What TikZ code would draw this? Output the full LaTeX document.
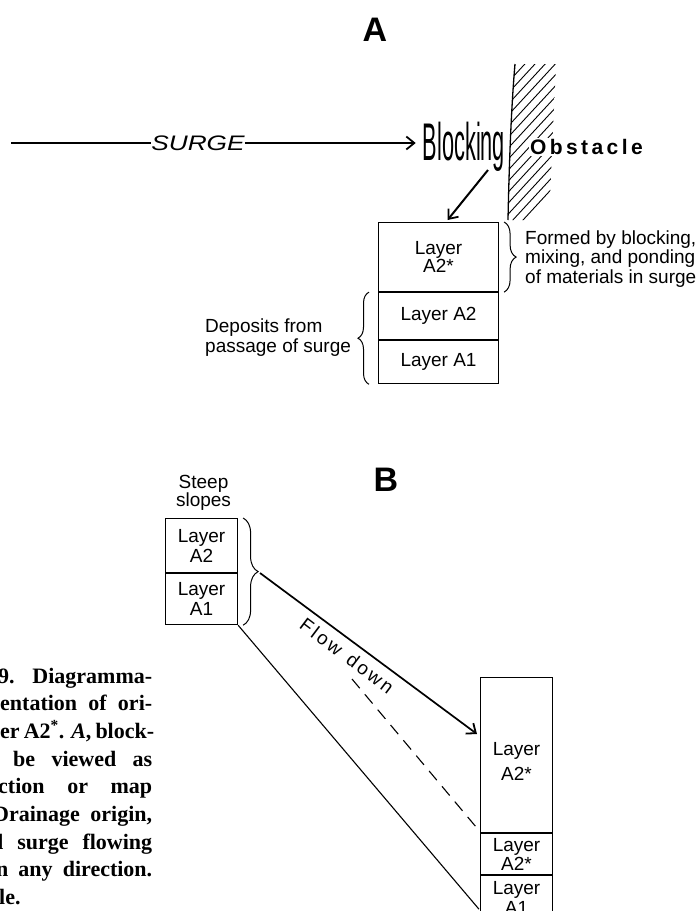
\documentclass[tikz,border=0pt]{standalone}
\usepackage{fontspec}
\usepackage{graphicx}
\setmainfont{Liberation Sans}
\newfontfamily\capserif{Liberation Serif}
\usetikzlibrary{arrows.meta,decorations.pathreplacing,calc}
\begin{document}
\begin{tikzpicture}[x=1pt,y=-1pt,
  txt/.style={inner sep=0pt, font=\fontsize{19}{19.5}\selectfont},
  lay/.style={draw, line width=1.1pt, inner sep=0pt, align=center, font=\fontsize{19}{18}\selectfont},
  heading/.style={inner sep=0pt, font=\bfseries\fontsize{34}{34}\selectfont},
  plainline/.style={line width=1.6pt},
  thinline/.style={line width=1.1pt},
  barb/.style={-{Straight Barb[length=8pt,width=13pt,line width=1.8pt]}},
  bigarrow/.style={line width=2pt, barb},
  midarrow/.style={line width=1.7pt, barb},
  curly/.style={decorate, line width=1pt, decoration={brace, amplitude=#1}},
  capline/.style={inner sep=0pt, anchor=base west, font=\capserif\bfseries\fontsize{22}{22}\selectfont}
]
\useasboundingbox (0,0) rectangle (697,911);

% ---------------- Panel A ----------------
\node[heading] (lblA) at (375,30) {A};

\node[inner sep=0pt, font=\itshape\fontsize{21}{21}\selectfont] (surge) at (198,143) {\scalebox{1.25}[1]{SURGE}};
\coordinate (surgestart) at (11,143);
\node[inner sep=0pt, anchor=base, font=\fontsize{53}{53}\selectfont] (blk) at (464,160) {\scalebox{0.41}[1]{Blocking}};
\draw[plainline] (surgestart) -- (surge.west);
\draw[plainline, barb, shorten >=7pt] (surge.east) -- (surge.east -| blk.west);

% obstacle hatching
\begin{scope}
  \clip (515,64) .. controls (511,110) and (509,170) .. (508,220) -- (549,220) -- (556,64) -- cycle;
  \foreach \k in {0,...,17} { \draw[line width=0.9pt] (500,58+11*\k) -- ++(70,-76); }
\end{scope}
\draw[line width=1.3pt] (515,64) .. controls (511,110) and (509,170) .. (508,220);
\node[fill=white, inner sep=1pt, anchor=west, font=\bfseries\fontsize{21}{21}\selectfont] (obs) at (529,147)
  {O\kern3.4pt b\kern3.4pt s\kern3.4pt t\kern3.4pt a\kern3.4pt c\kern3.4pt l\kern3.4pt e};

% layer column A
\node[lay, minimum width=120pt, minimum height=69pt, anchor=north west, font=\fontsize{19}{17}\selectfont] (a2s) at (378,222) {Layer\\A2*};
\node[lay, minimum width=120pt, minimum height=47pt, anchor=north] (a2) at (a2s.south) {Layer A2};
\node[lay, minimum width=120pt, minimum height=43pt, anchor=north] (a1) at (a2.south) {Layer A1};

\draw[bigarrow] ($(blk.base)+(24,10)$) -- ($(a2s.north)+(9,-2)$);

\draw[curly=12pt] ($(a2s.north east)+(5,0)$) -- ($(a2s.south east)+(5,0)$);
\node[txt, anchor=west, align=left] (formed) at (525,259) {Formed by blocking,\\mixing, and ponding\\of materials in surge};

\draw[curly=11pt] ($(a1.south west)+(-9,0)$) -- ($(a2.north west)+(-9,0)$);
\node[txt, anchor=west, align=left, font=\fontsize{19}{20}\selectfont] (dep) at (205,338) {Deposits from\\passage of surge};

% ---------------- Panel B ----------------
\node[heading] (lblB) at (386,480) {B};

\node[lay, minimum width=72pt, minimum height=54pt, anchor=north west, font=\fontsize{19}{20}\selectfont] (b2) at (165,518) {Layer\\A2};
\node[lay, minimum width=72pt, minimum height=51pt, anchor=north, font=\fontsize{19}{20}\selectfont] (b1) at (b2.south) {Layer\\A1};
\node[txt, anchor=south, align=center, font=\fontsize{19}{18}\selectfont] (steep) at ($(b2.north)+(2,-7)$) {Steep\\slopes};

\draw[curly=15pt] ($(b2.north east)+(5,0)$) -- ($(b1.south east)+(5,0)$);
\coordinate (btip) at (260,573);

\node[lay, minimum width=72pt, minimum height=155pt, anchor=north west] (g1) at (480,677) {};
\node[txt, align=center, font=\fontsize{19}{25}\selectfont] (g1txt) at ($(g1.center)+(0,6)$) {Layer\\A2*};
\node[lay, minimum width=72pt, minimum height=41pt, anchor=north, font=\fontsize{19}{19}\selectfont] (g2) at (g1.south) {Layer\\A2*};
\node[lay, minimum width=72pt, minimum height=44pt, anchor=north, font=\fontsize{19}{20}\selectfont] (g3) at (g2.south) {Layer\\A1};

\draw[midarrow] (btip) -- ($(g1.north west)+(-3,57)$);
\draw[thinline] (b1.south east) -- ($(g3.north west)+(-1,34)$);
\coordinate (dashstart) at (352,679);
\draw[thinline, dash pattern=on 12pt off 8pt] (dashstart) -- ($(g1.south west)+(-3,-5)$);

\node[inner sep=0pt, rotate=-37, font=\fontsize{19}{19}\selectfont] (flow) at (347,656)
  {F\kern2.6pt l\kern2.6pt o\kern2.6pt w\kern2.6pt\ \kern2.6pt d\kern2.6pt o\kern2.6pt w\kern2.6pt n};

% ---------------- caption fragment ----------------
\node[capline] (c1) at (-2,683)   {\makebox[154pt][s]{9. Diagramma-}};
\node[capline] (c2) at (0,710.7)  {\makebox[152pt][s]{entation of ori-}};
\node[capline] (c3) at (0,738.4)  {\makebox[154pt][s]{er A2\textsuperscript{*}. \textit{A}, block-}};
\node[capline] (c4) at (13,766.1) {\makebox[139pt][s]{be viewed as}};
\node[capline] (c5) at (-2,793.8) {\makebox[154pt][s]{ction or map}};
\node[capline] (c6) at (-7,821.5) {\makebox[159pt][s]{Drainage origin,}};
\node[capline] (c7) at (-9,849.2) {\makebox[161pt][s]{d surge flowing}};
\node[capline] (c8) at (-4,876.9) {\makebox[156pt][s]{n any direction.}};
\node[capline] (c9) at (-1,904.6) {le.};
\end{tikzpicture}
\end{document}
